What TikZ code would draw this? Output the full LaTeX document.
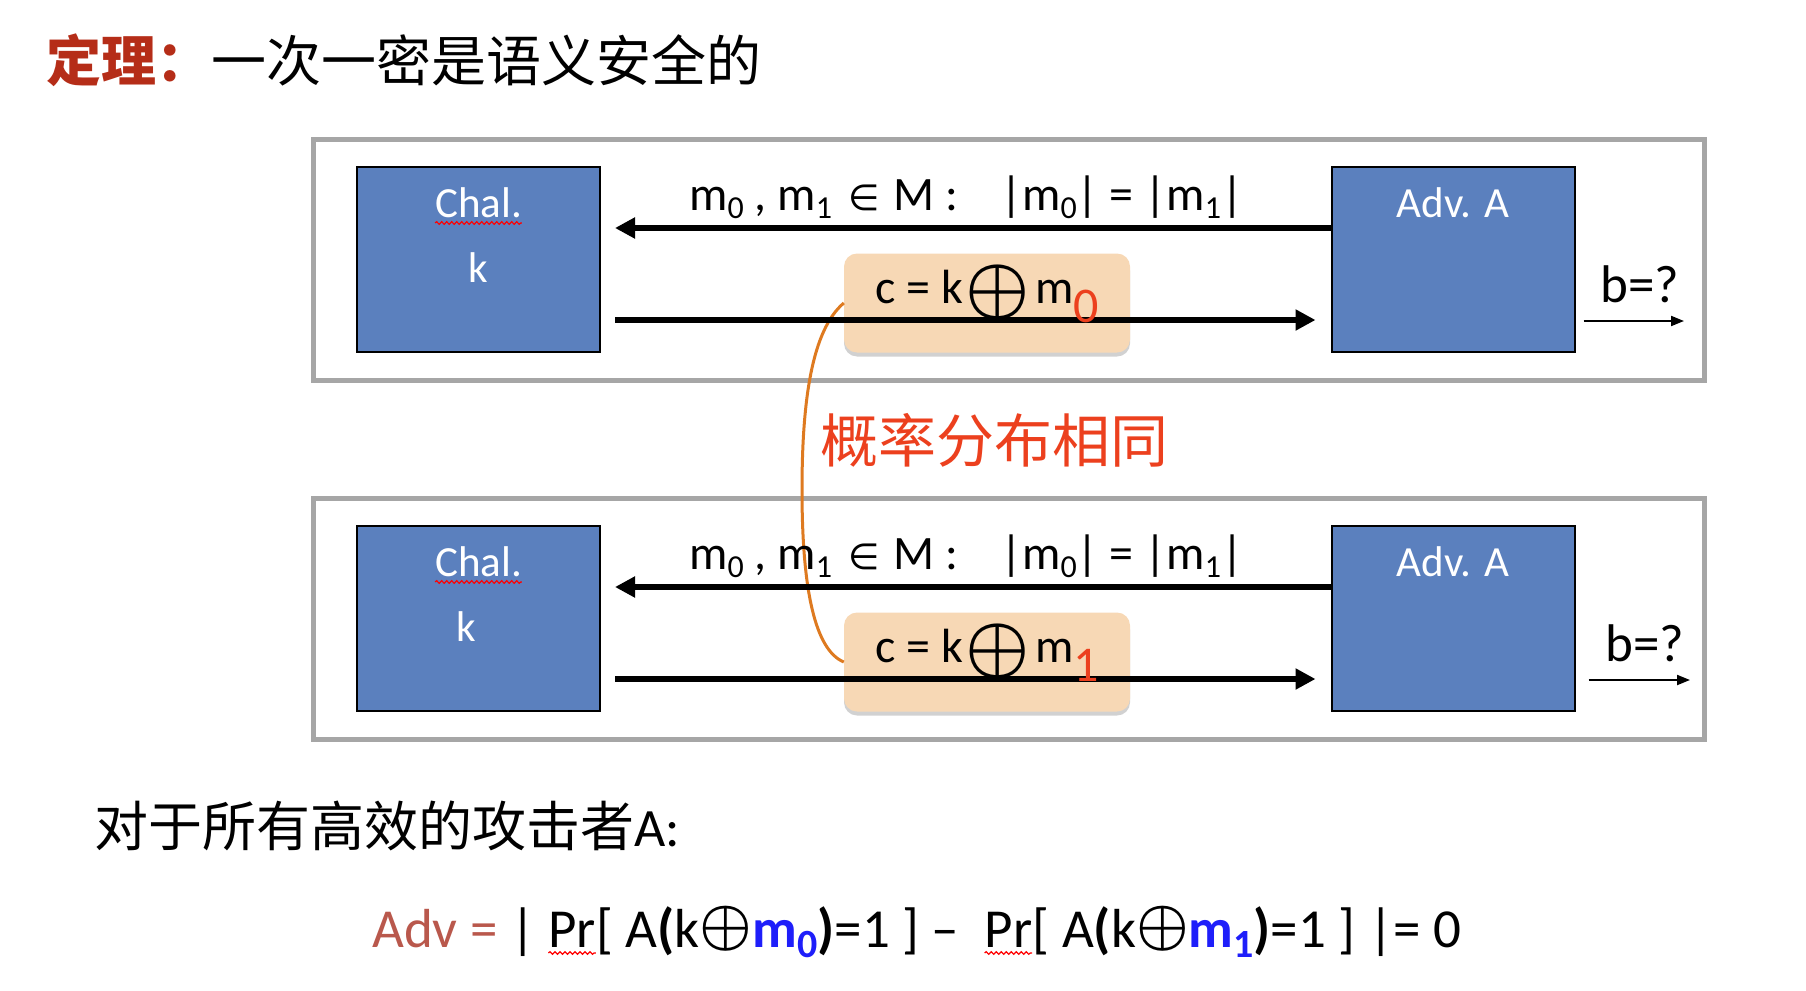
\documentclass[tikz,border=0pt]{standalone}
\usepackage{fontspec}
\setmainfont{Carlito}
\newfontfamily\cjk{Noto Sans CJK SC}
\newfontfamily\symf{DejaVu Sans}
\usetikzlibrary{arrows.meta}
\usetikzlibrary{shadows}
\usetikzlibrary{decorations.pathmorphing}

\definecolor{boxblue}{RGB}{91,128,190}
\definecolor{framegray}{RGB}{166,166,166}
\definecolor{peach}{RGB}{247,216,181}
\definecolor{curveorange}{RGB}{222,122,32}
\definecolor{samered}{RGB}{236,64,30}
\definecolor{titlered}{RGB}{181,45,24}
\definecolor{advred}{RGB}{185,88,76}
\definecolor{mblue}{RGB}{30,30,250}

\newcommand{\lsub}[1]{\raisebox{-8pt}{\fontsize{32}{32}\selectfont #1}}
\newcommand{\fsub}[1]{\raisebox{-10pt}{\fontsize{40}{40}\selectfont\bfseries #1}}
\newcommand{\xor}[2]{\raisebox{#2}{\scalebox{#1}{\normalsize\boldmath$\oplus$}}}
\newcommand{\squig}[1]{\tikz[baseline=(sq.base)]{\node[inner sep=0pt, outer sep=0pt] (sq) {#1}; \draw[red, line width=1.2pt, decorate, decoration={snake, amplitude=1.3pt, segment length=5pt}] ([yshift=-6pt]sq.base west) -- ([yshift=-6pt]sq.base east);}}

\begin{document}
\begin{tikzpicture}[x=1pt, y=-1pt,
    outerframe/.style={draw=framegray, line width=5pt, minimum width=1391pt, minimum height=241pt, inner sep=0pt},
    party/.style={draw=black, line width=2pt, fill=boxblue, minimum width=243pt, minimum height=185pt, inner sep=0pt},
    partytext/.style={text=white, font=\fontsize{43}{43}\selectfont, inner sep=0pt, anchor=base},
    cipher/.style={fill=peach, rounded corners=13pt, minimum width=286pt, minimum height=99pt, inner sep=0pt, drop shadow={shadow xshift=0pt, shadow yshift=-4pt, opacity=0.18, fill=black}},
    ciphertext/.style={font=\fontsize{48}{48}\selectfont, inner sep=0pt, text height=30pt, text depth=30pt},
    msglabel/.style={font=\fontsize{48}{48}\selectfont, inner sep=0pt},
    msg/.style={line width=6pt, -{Triangle[length=20pt, width=20pt]}},
    guess/.style={line width=2pt, -{Triangle[length=13pt, width=10pt]}}]

    \useasboundingbox (0,0) rectangle (1806,990);

    \node[anchor=west, inner sep=0pt, font=\cjk\fontsize{55}{55}\selectfont] (title) at (46,60) {\textcolor{titlered}{\bfseries 定理：}一次一密是语义安全的};

    \node[outerframe] (frame1) at (1008.5,259.5) {};
    \node[outerframe] (frame2) at (1008.5,619) {};

    \node[party] (chal1) at (478.5,259.5) {};
    \node[party] (adv1) at (1453,259.5) {};
    \node[party] (chal2) at (478.5,618.5) {};
    \node[party] (adv2) at (1453,618.5) {};

    \node[partytext] (chalname1) at ([yshift=-51pt]chal1.north) {\squig{Chal.}};
    \node[partytext] (key1) at ([yshift=-116pt]chal1.north) {k};
    \node[partytext] (advname1) at ([yshift=-51pt]adv1.north) {Adv. A};
    \node[partytext] (chalname2) at ([yshift=-51pt]chal2.north) {\squig{Chal.}};
    \node[partytext] (key2) at ([xshift=-12pt,yshift=-116pt]chal2.north) {k};
    \node[partytext] (advname2) at ([yshift=-51pt]adv2.north) {Adv. A};

    \node[cipher] (ct1) at (987,303) {};
    \node[cipher] (ct2) at (987,662) {};

    \draw[curveorange, line width=3pt] (ct1.west) .. controls (812,330) and (802,400) .. (802,490) .. controls (802,590) and (815,650) .. (ct2.west);

    \node[inner sep=0pt, text=samered, font=\cjk\fontsize{58}{58}\selectfont] (same) at (994,440) {概率分布相同};

    \node[msglabel, anchor=base west] (req1) at (689,210) {m\lsub{0} , m\lsub{1}\hspace{16pt}{\symf\fontsize{36}{36}\selectfont ∈}\hspace{14pt}M :\hspace{42pt}|m\lsub{0}| = |m\lsub{1}|};
    \node[msglabel, anchor=base west] (req2) at (689,569) {m\lsub{0} , m\lsub{1}\hspace{16pt}{\symf\fontsize{36}{36}\selectfont ∈}\hspace{14pt}M :\hspace{42pt}|m\lsub{0}| = |m\lsub{1}|};

    \draw[msg] ([yshift=31.5pt]adv1.west) -- ([xshift=14pt,yshift=31.5pt]chal1.east);
    \draw[msg] ([xshift=14pt,yshift=-60.5pt]chal1.east) -- ([xshift=-15pt,yshift=-60.5pt]adv1.west);
    \draw[msg] ([yshift=31.5pt]adv2.west) -- ([xshift=14pt,yshift=31.5pt]chal2.east);
    \draw[msg] ([xshift=14pt,yshift=-60.5pt]chal2.east) -- ([xshift=-15pt,yshift=-60.5pt]adv2.west);

    \node[ciphertext] (ctext1) at (ct1) {c = k\hspace{3pt}\xor{7.2}{-7pt}\hspace{5pt}m\raisebox{-19pt}{\fontsize{50}{50}\selectfont\textcolor{samered}{0}}};
    \node[ciphertext] (ctext2) at (ct2) {c = k\hspace{3pt}\xor{7.2}{-7pt}\hspace{5pt}m\raisebox{-19pt}{\fontsize{50}{50}\selectfont\textcolor{samered}{1}}};

    \node[msglabel, anchor=base, font=\fontsize{53}{53}\selectfont] (bq1) at (1640,302) {b=?};
    \node[msglabel, anchor=base, font=\fontsize{53}{53}\selectfont] (bq2) at (1645,661) {b=?};
    \coordinate (out1) at (1684,321);
    \coordinate (out2) at (1690,680);
    \draw[guess] ([xshift=8pt,yshift=-61.5pt]adv1.east) -- (out1);
    \draw[guess] ([xshift=13pt,yshift=-61.5pt]adv2.east) -- (out2);

    \node[anchor=west, inner sep=0pt, font=\cjk\fontsize{54}{54}\selectfont] (forall) at (94,826) {对于所有高效的攻击者{\rmfamily A:}};

    \node[anchor=base west, inner sep=0pt, font=\fontsize{55}{55}\selectfont] (advformula) at (372,947) {\textcolor{advred}{Adv =} | \squig{Pr}[ A\textbf{(}k\xor{5.9}{4pt}\textcolor{mblue}{\textbf{m}\fsub{0}}\textbf{)}=1 ] – \ \squig{Pr}[ A\textbf{(}k\xor{5.9}{4pt}\textcolor{mblue}{\textbf{m}\fsub{1}}\textbf{)}=1 ] |= 0};
\end{tikzpicture}
\end{document}
